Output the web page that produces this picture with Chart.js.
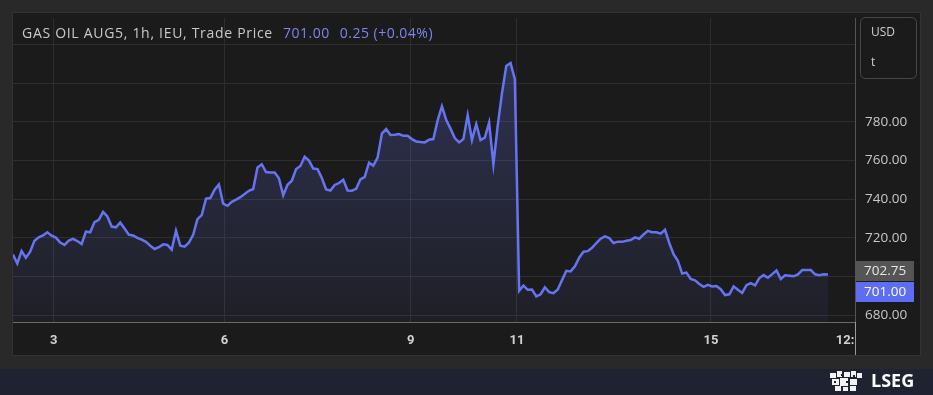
<!DOCTYPE html>
<html>
<head>
<meta charset="utf-8">
<script src="https://cdn.jsdelivr.net/npm/chart.js@4/dist/chart.umd.min.js"></script>
<style>
html,body{margin:0;padding:0;background:#292929;}
#wrap{width:933px;height:395px;position:relative;}
canvas{display:block;}
</style>
</head>
<body>
<div id="wrap"><canvas id="c" width="933" height="395"></canvas></div>
<script>
// ---- data (hourly trade prices) ----
const prices = [
711.3,706.7,713.1,709.7,712.8,718.4,720.2,721.2,722.8,721.1,
720.1,717.5,716.3,718.5,719.4,718.3,716.8,723.2,722.8,728.1,
729.3,733.4,731.0,725.8,725.4,727.9,724.8,721.6,721.2,720.0,
719.0,717.9,715.9,714.2,715.1,716.6,716.3,713.9,723.6,715.9,
715.4,717.5,721.5,729.6,731.7,740.2,740.5,744.8,747.5,737.6,
736.5,738.6,739.7,741.0,742.6,744.3,745.2,756.3,758.0,754.0,
753.7,753.7,750.7,742.0,747.4,749.5,755.5,757.1,761.9,759.9,
755.8,755.5,750.9,745.0,744.4,747.3,748.3,750.0,744.4,744.3,
745.3,750.2,751.5,758.8,757.3,761.4,773.8,776.2,773.1,773.2,
773.6,772.7,772.7,771.0,769.8,769.5,769.3,770.7,771.0,780.7,
788.0,780.8,776.4,771.5,769.3,771.0,783.4,770.5,778.8,770.5,
771.8,779.5,758.0,777.9,794.8,808.8,810.3,802.0,692.6,695.3,
693.1,693.2,689.7,690.8,694.4,691.9,691.4,693.3,698.1,702.9,
702.6,705.2,709.7,712.8,713.1,714.8,717.3,719.5,720.7,719.9,
717.3,718.0,717.9,718.5,718.8,720.2,719.5,721.7,723.6,722.9,
722.8,722.1,724.1,717.3,711.5,708.1,701.5,702.0,698.7,698.0,
696.1,694.6,695.7,694.8,695.1,693.4,690.4,690.8,694.9,693.1,
691.5,695.5,696.5,695.4,699.2,700.7,699.3,701.2,703.1,698.7,
700.6,700.4,700.1,701.1,703.3,703.3,703.3,701.1,700.7,701.1,
701.0
];
// x-axis labels (day of month / time) and the bar index where each sits
const tickLabels = ['3','6','9','11','15','12:'];
const tickBars = [9.5, 49.3, 92.7, 117.5, 162.7, 194];
// price-axis gridline values
const yTickValues = [680,700,720,740,760,780,800,820];
const yLabelMax = 780;
// price tags on the axis
const tagValues = [702.75, 701.00];
const titleText = 'GAS OIL AUG5, 1h, IEU, Trade Price';
const lastText = '701.00';
const changeText = '0.25 (+0.04%)';
const unitTop = 'USD';
const unitBottom = 't';
const brandText = 'LSEG';

// ---- style ----
const LINE = '#6674f2';
const FONT = "'Open Sans', 'Noto Sans', sans-serif";

const bgPlugin = {
  id: 'bg',
  beforeDraw(chart) {
    const ctx = chart.ctx;
    ctx.save();
    ctx.fillStyle = '#292929';
    ctx.fillRect(0, 0, 933, 395);
    ctx.fillStyle = '#1b1b1b';
    ctx.fillRect(13, 13, 907, 342);
    ctx.strokeStyle = '#333333';
    ctx.lineWidth = 1;
    ctx.strokeRect(12.5, 12.5, 908, 343);
    ctx.fillStyle = '#1e2231';
    ctx.fillRect(0, 369, 933, 26);
    ctx.restore();
  },
  afterDraw(chart) {
    const ctx = chart.ctx;
    const ys = chart.scales.y;
    const area = chart.chartArea;
    ctx.save();
    // separator below the price axis
    ctx.strokeStyle = '#9a9a9a';
    ctx.lineWidth = 1;
    ctx.beginPath();
    ctx.moveTo(area.right + 0.5, area.bottom);
    ctx.lineTo(area.right + 0.5, 355);
    ctx.stroke();

    // header
    ctx.textBaseline = 'alphabetic';
    ctx.textAlign = 'left';
    ctx.font = '14px ' + FONT;
    ctx.letterSpacing = '0.7px';
    ctx.fillStyle = '#c9c9c9';
    ctx.fillText(titleText, 22, 38);
    ctx.letterSpacing = '0.5px';
    let x = 283;
    ctx.fillStyle = '#7c86ec';
    ctx.fillText(lastText, x, 38);
    x += ctx.measureText(lastText).width + 10;
    ctx.fillText(changeText, x, 38);
    ctx.letterSpacing = '0px';

    // unit box
    ctx.fillStyle = '#1b1b1b';
    ctx.strokeStyle = '#474747';
    ctx.beginPath();
    ctx.roundRect(860.5, 17.5, 56, 61, 5);
    ctx.fill();
    ctx.stroke();
    ctx.fillStyle = '#cfcfcf';
    ctx.font = '12px ' + FONT;
    ctx.textBaseline = 'middle';
    ctx.fillText(unitTop, 871, 33);
    ctx.fillText(unitBottom, 871, 63);

    // price tags
    const tagY = ys.getPixelForValue(tagValues[0]);
    const top0 = Math.round(tagY - 10);
    ctx.fillStyle = '#555555';
    ctx.fillRect(856, top0, 58, 20);
    ctx.fillStyle = '#5d6df4';
    ctx.fillRect(856, top0 + 21, 58, 20);
    ctx.font = '13.5px ' + FONT;
    ctx.fillStyle = '#e6e6e6';
    ctx.fillText(tagValues[0].toFixed(2), 864, top0 + 10.5);
    ctx.fillStyle = '#ffffff';
    ctx.fillText(tagValues[1].toFixed(2), 864, top0 + 31.5);

    // footer brand
    ctx.fillStyle = '#ffffff';
    ctx.font = 'bold 18px ' + FONT;
    ctx.textAlign = 'left';
    ctx.fillText(brandText, 871, 382);
    // simple emblem
    ctx.fillStyle = '#f2f2f2';
    const bits = [[830,373,6,5],[837,371,5,6],[844,372,6,5],[851,371,5,6],[857,373,5,5],
                  [832,379,7,6],[840,378,8,8],[850,379,7,6],[835,386,6,5],[843,387,5,4],[850,386,6,5]];
    bits.forEach(b => ctx.fillRect(b[0], b[1], b[2], b[3]));
    ctx.fillStyle = '#1e2231';
    [[834,381,2,2],[846,381,2,2],[841,374,2,2],[853,375,2,2]].forEach(b => ctx.fillRect(b[0], b[1], b[2], b[3]));
    ctx.restore();
  }
};

const ctx = document.getElementById('c').getContext('2d');
new Chart(ctx, {
  type: 'line',
  data: {
    datasets: [{
      data: prices.map((v, i) => ({x: i, y: v})),
      borderColor: LINE,
      borderWidth: 2.5,
      pointRadius: 0,
      tension: 0,
      fill: 'start',
      backgroundColor: (c) => {
        const a = c.chart.chartArea;
        if (!a) return 'rgba(102,116,242,0.1)';
        const g = c.chart.ctx.createLinearGradient(0, a.top + 40, 0, a.bottom);
        g.addColorStop(0, 'rgba(102,116,242,0.26)');
        g.addColorStop(1, 'rgba(102,116,242,0.05)');
        return g;
      }
    }]
  },
  options: {
    responsive: false,
    animation: false,
    layout: {padding: {left: 13, right: 13, top: 13, bottom: 40}},
    plugins: {legend: {display: false}, tooltip: {enabled: false}},
    scales: {
      x: {
        type: 'linear',
        min: 0,
        max: 196.3,
        afterFit(s) { s.height = 33; },
        afterBuildTicks(s) { s.ticks = tickBars.map(v => ({value: v})); },
        grid: {
          drawTicks: false,
          color: (c) => (c.tick && c.tick.value === tickBars[tickBars.length - 1]) ? 'rgba(0,0,0,0)' : '#2e2e2e'
        },
        border: {color: '#6a6a6a'},
        ticks: {
          autoSkip: false,
          maxRotation: 0,
          padding: 11,
          color: '#d2d2d2',
          font: {family: "'Liberation Sans Narrow', 'Roboto', sans-serif", size: 13, weight: 'bold'},
          callback: (v) => { const k = tickBars.indexOf(v); return k >= 0 ? tickLabels[k] : ''; }
        }
      },
      y: {
        type: 'linear',
        position: 'right',
        min: 676.46,
        max: 833.55,
        afterFit(s) { s.width = 65; },
        afterBuildTicks(s) { s.ticks = yTickValues.map(v => ({value: v})); },
        grid: {drawTicks: false, color: '#2e2e2e'},
        border: {color: '#555555'},
        ticks: {
          padding: 10,
          color: '#c8c8c8',
          font: {family: FONT, size: 13.5},
          callback: (v) => v <= yLabelMax ? v.toFixed(2) : ''
        }
      }
    }
  },
  plugins: [bgPlugin]
});
</script>
</body>
</html>
